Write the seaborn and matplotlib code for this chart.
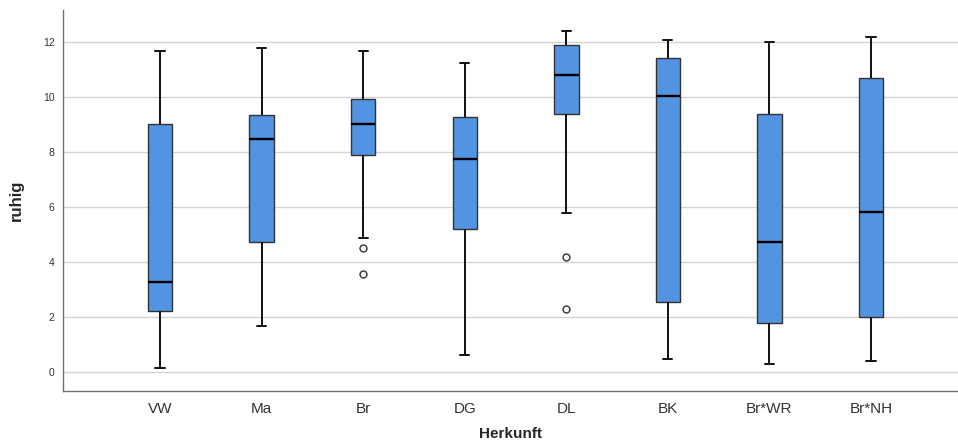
import numpy as np
import pandas as pd
import matplotlib
matplotlib.use("Agg")
import matplotlib.pyplot as plt
import seaborn as sns

# Values (per category)
categories = ["VW", "Ma", "Br", "DG", "DL", "BK", "Br*WR", "Br*NH"]
whisker_low = [0.18, 1.70, 4.90, 0.65, 5.81, 0.50, 0.30, 0.40]
q1 = [2.22, 4.73, 7.89, 5.20, 9.41, 2.57, 1.81, 2.00]
median = [3.30, 8.50, 9.02, 7.75, 10.80, 10.05, 4.74, 5.85]
q3 = [9.02, 9.35, 9.93, 9.30, 11.89, 11.44, 9.39, 10.69]
whisker_high = [11.70, 11.81, 11.70, 11.25, 12.40, 12.10, 12.00, 12.21]
outliers = [[], [], [4.53, 3.59], [], [4.21, 2.30], [], [], []]

y_ticks = [0, 2, 4, 6, 8, 10, 12]

# Build a sample per category whose quartiles/whiskers reproduce the read statistics
rows = []
for i, cat in enumerate(categories):
    vals = (list(outliers[i]) + [whisker_low[i]] + [q1[i]] * 20 + [median[i]] * 21
            + [q3[i]] * 20 + [whisker_high[i]])
    rows += [(cat, v) for v in vals]
df = pd.DataFrame(rows, columns=["Herkunft", "ruhig"])

sns.set_style("white")
plt.rcParams["font.family"] = ["Liberation Sans", "DejaVu Sans"]

fig = plt.figure(figsize=(9.58, 4.43), dpi=100)
ax = fig.add_axes([0.0658, 0.117, 0.9342, 0.860])

sns.boxplot(
    data=df, x="Herkunft", y="ruhig", order=categories, ax=ax,
    color="#5294e2", saturation=1, width=0.24, whis=1.5,
    linecolor="#222222", linewidth=1.2,
    boxprops=dict(edgecolor="#333333", linewidth=1.0),
    medianprops=dict(color="black", linewidth=1.7),
    whiskerprops=dict(color="#111111", linewidth=1.4),
    capprops=dict(color="#111111", linewidth=1.4),
    flierprops=dict(marker="o", markersize=5, markerfacecolor="white",
                    markeredgecolor="#333333", markeredgewidth=1.0),
    capwidths=0.09,
)

ax.set_ylim(-0.68, 13.17)
ax.set_xlim(-0.955, 7.856)
ax.set_yticks(y_ticks)
ax.set_yticklabels([str(t) for t in y_ticks], fontsize=7.5, color="#333333")
ax.tick_params(axis="x", labelsize=11, colors="#333333", length=0, pad=8)
ax.tick_params(axis="y", length=0, pad=6)
for lab in ax.get_xticklabels():
    lab.set_color("#333333")
ax.yaxis.grid(True, color="#d4d4d4", linewidth=1.0)
ax.set_axisbelow(True)
for s in ["top", "right"]:
    ax.spines[s].set_visible(False)
for s in ["left", "bottom"]:
    ax.spines[s].set_color("#707070")
    ax.spines[s].set_linewidth(1.0)

ax.set_xlabel("Herkunft", fontsize=11, fontweight="bold", labelpad=8)
ax.set_ylabel("ruhig", fontsize=12, fontweight="bold", labelpad=14)

fig.savefig("out.png", dpi=100)
